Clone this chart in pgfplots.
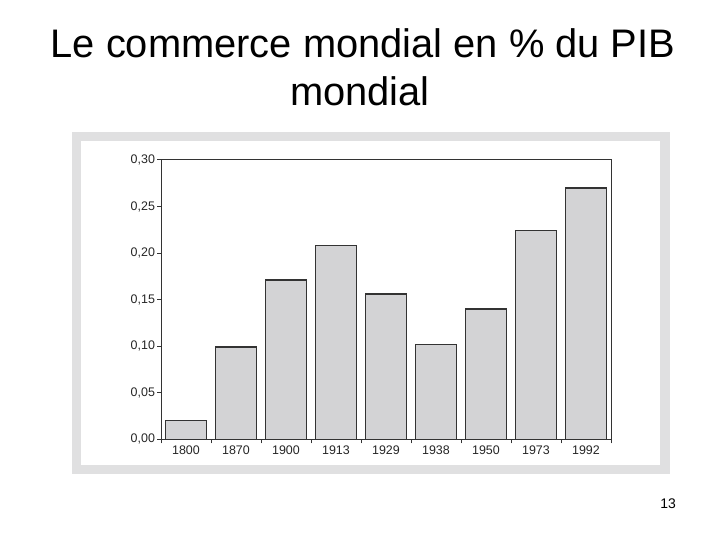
\documentclass[border=0pt]{standalone}
\usepackage{pgfplots}
\pgfplotsset{compat=1.18}
\usepackage{fontspec}
\setmainfont{Liberation Sans}

\definecolor{framegray}{HTML}{E0E0E1}
\definecolor{barfill}{HTML}{D3D3D5}
\definecolor{barline}{HTML}{333333}

\begin{document}
\begin{tikzpicture}[x=1bp,y=1bp]
  % slide background, y measured from the bottom
  \fill[white] (0,0) rectangle (720,540);
  \useasboundingbox (0,0) rectangle (720,540);

  % title
  \node[anchor=base,font=\fontsize{40}{48}\selectfont] at (363,540-58) {Le commerce mondial en \% du PIB};
  \node[anchor=base,font=\fontsize{40}{48}\selectfont] at (360,540-106) {mondial};

  % grey frame of the pasted figure
  \fill[framegray] (72,540-132) rectangle (670,540-474);
  \fill[white] (81,540-141) rectangle (660,540-465);

  \begin{axis}[
      at={(161bp,100.7bp)}, anchor=south west,
      scale only axis,
      width=450bp, height=279.3bp,
      ybar, bar width=41bp,
      xmin=-0.5, xmax=8.5,
      ymin=0, ymax=0.30,
      xtick={0,...,8},
      xticklabels={1800,1870,1900,1913,1929,1938,1950,1973,1992},
      minor xtick={-0.5,0.5,...,8.5},
      major x tick style={draw=none},
      ytick={0,0.05,...,0.31},
      tick align=outside,
      tick pos=left,
      major tick length=4bp,
      minor tick length=4bp,
      every tick/.style={barline, line width=1pt},
      axis line style={barline, line width=1pt},
      /pgf/number format/fixed,
      /pgf/number format/fixed zerofill,
      /pgf/number format/precision=2,
      /pgf/number format/use comma,
      /pgf/number format/assume math mode=true,
      ticklabel style={font=\fontsize{12.5}{14}\selectfont, text=black!85},
      xticklabel style={yshift=1bp},
      yticklabel style={xshift=1.5bp},
    ]
    \addplot[fill=barfill, draw=barline, line width=1.3pt] coordinates {
      (0,0.020) (1,0.099) (2,0.171) (3,0.208) (4,0.156)
      (5,0.102) (6,0.140) (7,0.224) (8,0.270)
    };
  \end{axis}

  % page number
  \node[anchor=base,font=\fontsize{14}{16}\selectfont] at (668,540-509) {13};
\end{tikzpicture}
\end{document}
